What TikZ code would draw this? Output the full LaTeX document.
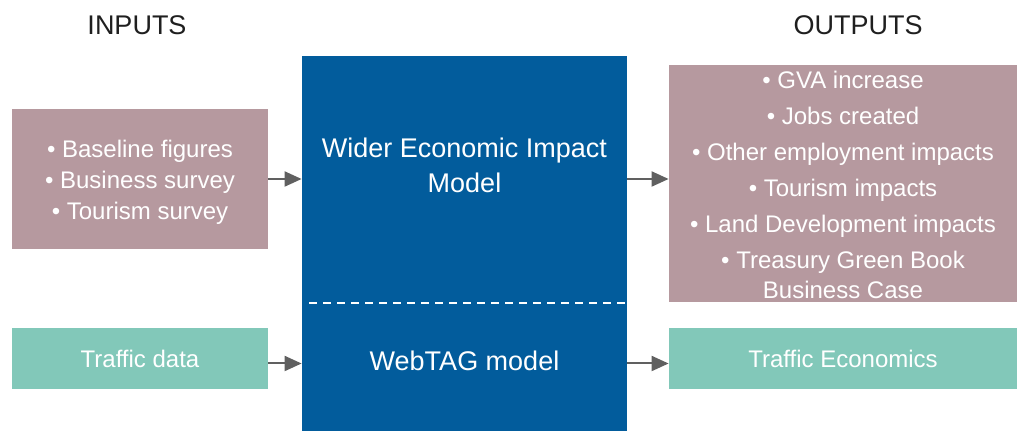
\documentclass[tikz,border=0pt]{standalone}
\usepackage{fontspec}
\setmainfont{Liberation Sans}
\usepackage{tikz}
\usetikzlibrary{arrows.meta}
\definecolor{mauve}{HTML}{B6999F}
\definecolor{mint}{HTML}{82C8B9}
\definecolor{navy}{HTML}{025C9C}
\definecolor{arrowgray}{HTML}{606060}

\begin{document}
\begin{tikzpicture}[x=0.5pt,y=-0.5pt,
  box/.style={inner sep=0pt,text=white,align=center,font=\fontsize{12}{15}\selectfont},
  heading/.style={font=\fontsize{13.5}{16}\selectfont,text=black!88},
  link/.style={arrowgray,line width=1pt,-{Triangle[length=8.5pt,width=7.5pt]}}]
  \useasboundingbox (0,0) rectangle (1017,431);
  \node[heading] (inhead) at (137,25) {INPUTS};
  \node[heading] (outhead) at (858,25) {OUTPUTS};
  % left column
  \node[box,fill=mauve,minimum width=128pt,minimum height=70pt] (inputs) at (140,179) {};
  \node[box,font=\fontsize{12}{15.5}\selectfont] (inputlist) at (140,182)
    {• Baseline figures\\ • Business survey\\ • Tourism survey};
  \node[box,fill=mint,minimum width=128pt,minimum height=30.5pt] (traffic) at (140,358.5) {Traffic data};
  % model in the middle
  \node[box,fill=navy,minimum width=162.5pt,minimum height=187.5pt] (model) at (464.5,243.5) {};
  \node[box,font=\fontsize{13.5}{17.5}\selectfont] (modeltitle) at (464.5,165) {Wider Economic Impact\\Model};
  \node[box,font=\fontsize{13.5}{16}\selectfont] (webtag) at (464.5,361) {WebTAG model};
  \coordinate (dashl) at (309,303);
  \coordinate (dashr) at (627,303);
  \draw[white,line width=1pt,dash pattern=on 4pt off 3pt] (dashl) -- (dashr);
  % right column
  \node[box,fill=mauve,minimum width=174pt,minimum height=118.5pt] (outputs) at (843,183.5) {};
  \node[box] (outputlist) at (843,185)
    {• GVA increase\\[3pt] • Jobs created\\[3pt] • Other employment impacts\\[3pt]
     • Tourism impacts\\[3pt] • Land Development impacts\\[3pt] • Treasury Green Book\\Business Case};
  \node[box,fill=mint,minimum width=174pt,minimum height=30.5pt] (economics) at (843,358.5) {Traffic Economics};
  % arrows
  \coordinate (lowin) at ([yshift=-2.5pt]traffic.east);
  \draw[link] (inputs.east) -- (inputs.east -| model.west);
  \draw[link] (lowin) -- (lowin -| model.west);
  \draw[link] (model.east |- inputs.east) -- (outputs.west |- inputs.east);
  \draw[link] (model.east |- lowin) -- (economics.west |- lowin);
\end{tikzpicture}
\end{document}
